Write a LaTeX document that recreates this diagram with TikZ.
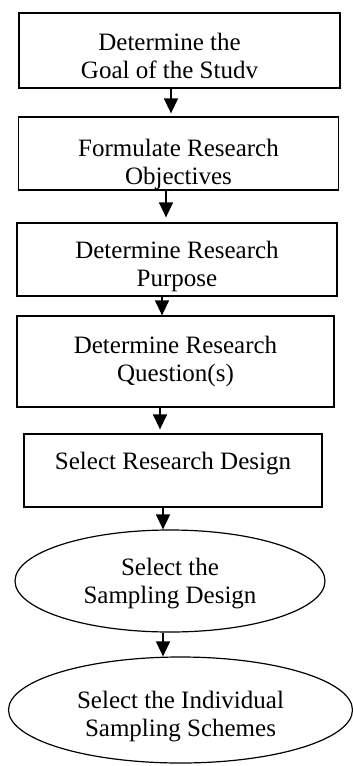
\documentclass[tikz,border=0pt]{standalone}
\usepackage{fontspec}
\setmainfont{Liberation Serif}
\usetikzlibrary{shapes.geometric,arrows.meta}
\newcommand{\tb}[3]{\hspace*{#1}\raisebox{#2}[\height][\depth]{\begin{tabular}{@{}c@{}}#3\end{tabular}}}
\tikzset{
  stepbox/.style={draw, line width=1.3pt, rectangle, inner sep=0pt,
    font=\fontsize{25}{28}\selectfont},
  oval/.style={draw, line width=1.2pt, ellipse, inner sep=0pt,
    font=\fontsize{25}{28}\selectfont},
  arr/.style={line width=1.4pt, -{Triangle[width=14pt,length=15pt]}}
}
\begin{document}
\begin{tikzpicture}[x=1pt,y=-1pt]
\useasboundingbox (0,0) rectangle (353,766);
\node[stepbox, minimum width=321pt, minimum height=75pt] (b1) at (179.5,50.5)
  {\tb{-20pt}{-8pt}{Determine the\\Goal of the Studv}};
\node[stepbox, minimum width=320pt, minimum height=73pt] (b2) at (178.5,153.5)
  {\tb{0pt}{-11pt}{Formulate Research\\Objectives}};
\node[stepbox, minimum width=320pt, minimum height=73pt] (b3) at (177,259.5)
  {\tb{0pt}{-7pt}{Determine Research\\Purpose}};
\node[stepbox, minimum width=317pt, minimum height=91pt] (b4) at (175.5,361.5)
  {\tb{0pt}{0pt}{Determine Research\\Question(s)}};
\node[stepbox, minimum width=298pt, minimum height=73pt] (b5) at (173,470.5)
  {\tb{0pt}{7pt}{Select Research Design}};
\node[oval, minimum width=310pt, minimum height=102pt] (e1) at (170,581)
  {\tb{0pt}{-3pt}{Select the\\Sampling Design}};
\node[oval, minimum width=344pt, minimum height=106pt] (e2) at (180.5,710)
  {\tb{0pt}{-7pt}{Select the Individual\\Sampling Schemes}};
\draw[arr, shorten >=3pt] (b1.south -| 171,0) -- (b2.north -| 171,0);
\draw[arr, shorten >=5pt] (b2.south -| 166,0) -- (b3.north -| 166,0);
\draw[arr] (b3.south -| 162,0) -- (b4.north -| 162,0);
\draw[arr, shorten >=4pt] (b4.south -| 160,0) -- (b5.north -| 160,0);
\draw[arr] (b5.south -| 163,0) -- (e1.north -| 163,0);
\draw[arr] (e1.south -| 163,0) -- (e2.north -| 163,0);
\end{tikzpicture}
\end{document}
